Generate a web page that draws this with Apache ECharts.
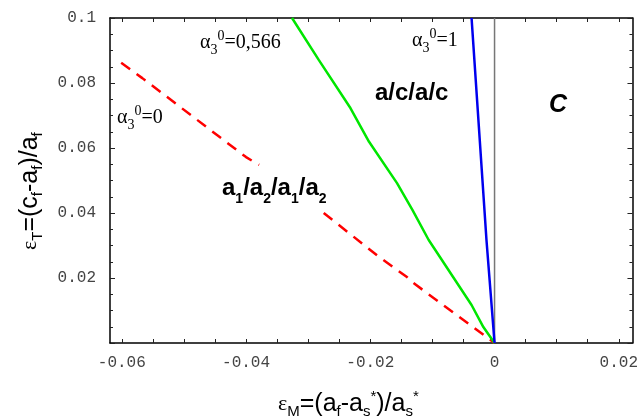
<!DOCTYPE html>
<html>
<head>
<meta charset="utf-8">
<title>ECharts</title>
<script src="https://cdn.jsdelivr.net/npm/echarts@6/dist/echarts.min.js"></script>
</head>
<body style="margin:0">
<div id="main" style="width:641px;height:420px"></div>
<script type="text/javascript">
// axis ranges and ticks
var xMin = -0.0619, xMax = 0.0222;
var xTicks = [-0.06, -0.04, -0.02, 0, 0.02];
var xTickLabels = ['-0.06', '-0.04', '-0.02', '0', '0.02'];
var xAllTicks = [-0.06, -0.055, -0.05, -0.045, -0.04, -0.035, -0.03, -0.025, -0.02,
                 -0.015, -0.01, -0.005, 0, 0.005, 0.01, 0.015, 0.02];
var yTickLabels = ['', '0.02', '0.04', '0.06', '0.08', '0.1'];

// curves  [eps_M, eps_T]
var alpha0A = [[-0.0601, 0.0862], [-0.0567, 0.0815], [-0.0400, 0.0572], [-0.0379, 0.0548]];
var alpha0B = [[-0.0275, 0.0400], [-0.0186, 0.0265], [-0.0141, 0.0203], [-0.0133, 0.0188], [0, 0]];
var alpha566 = [[-0.0326, 0.1], [-0.0283, 0.0871], [-0.0232, 0.0723], [-0.0202, 0.0619],
                [-0.0157, 0.0492], [-0.0132, 0.0409], [-0.0106, 0.0317], [-0.0037, 0.0117],
                [-0.0018, 0.0049], [0, 0]];
var alpha1 = [[-0.0037, 0.1], [-0.0013, 0.0317], [0, 0]];
var zeroLine = [[0, 0], [0, 0.1]];

var myChart = echarts.init(document.getElementById('main'));

var monoFont = 'Liberation Mono';
function xAxisOpt(pos, showLabel) {
    return {
        type: 'value', position: pos, min: xMin, max: xMax,
        axisLine: { show: true, onZero: false, lineStyle: { color: '#000', width: 1.5 } },
        axisTick: { show: true, inside: true, length: 4, customValues: xAllTicks, lineStyle: { color: '#222' } },
        axisLabel: {
            show: showLabel, customValues: xTicks, margin: 12,
            fontFamily: monoFont, fontSize: 16, color: '#444',
            formatter: function (v) {
                for (var i = 0; i < xTicks.length; i++) {
                    if (Math.abs(xTicks[i] - v) < 1e-9) return xTickLabels[i];
                }
                return '';
            }
        },
        splitLine: { show: false }
    };
}
function yAxisOpt(pos, showLabel) {
    return {
        type: 'value', position: pos, min: 0, max: 0.1, interval: 0.02,
        axisLine: { show: true, onZero: false, lineStyle: { color: '#000', width: 1.5 } },
        axisTick: { show: true, inside: true, length: 5, lineStyle: { color: '#222' } },
        minorTick: { show: true, splitNumber: 4, length: 3, lineStyle: { color: '#222' } },
        axisLabel: {
            show: showLabel, margin: 14,
            fontFamily: monoFont, fontSize: 16, color: '#444',
            formatter: function (v) { return yTickLabels[Math.round(v / 0.02)]; }
        },
        splitLine: { show: false }
    };
}

function line(data, color, width, type) {
    return {
        type: 'line', data: data, symbol: 'none', silent: true,
        lineStyle: { color: color, width: width, type: type || 'solid' }
    };
}

var alphaRich = {
    g: { fontFamily: 'Liberation Serif', fontSize: 20, lineHeight: 28, fill: '#000' },
    sub: { fontFamily: 'Liberation Serif', fontSize: 14, lineHeight: 12, verticalAlign: 'bottom', fill: '#000' },
    sup: { fontFamily: 'Liberation Serif', fontSize: 14, lineHeight: 23, verticalAlign: 'top', fill: '#000' }
};
var phaseRich = {
    b: { fontFamily: 'Liberation Sans', fontWeight: 'bold', fontSize: 24, lineHeight: 36, fill: '#000' },
    sub: { fontFamily: 'Liberation Sans', fontWeight: 'bold', fontSize: 14, lineHeight: 13, verticalAlign: 'bottom', fill: '#000' }
};
var titleRich = {
    e: { fontFamily: 'Liberation Serif', fontSize: 22, lineHeight: 30, fill: '#000' },
    m: { fontFamily: 'Liberation Sans', fontSize: 25, lineHeight: 30, fill: '#000' },
    sub: { fontFamily: 'Liberation Sans', fontSize: 15, lineHeight: 12, verticalAlign: 'bottom', fill: '#000' },
    sup: { fontFamily: 'Liberation Sans', fontSize: 15, lineHeight: 22, verticalAlign: 'top', fill: '#000' }
};

function txt(x, y, text, rich, extra) {
    var o = {
        type: 'text', x: x, y: y, silent: true,
        style: { text: text, rich: rich, fill: '#000', align: 'left', verticalAlign: 'middle' }
    };
    if (extra) for (var k in extra) o[k] = extra[k];
    return o;
}

var option = {
    animation: false,
    backgroundColor: '#fff',
    grid: { left: 110, right: 7, top: 18, bottom: 77, containLabel: false },
    xAxis: [xAxisOpt('bottom', true), xAxisOpt('top', false)],
    yAxis: [yAxisOpt('left', true), yAxisOpt('right', false)],
    series: [
        line(zeroLine, '#777', 1.5),
        line(alpha0A, '#ff0000', 2.5, [11, 8]),
        line(alpha0B, '#ff0000', 2.5, [11, 8]),
        line(alpha566, '#00e600', 2.5),
        line(alpha1, '#0000ee', 2.5)
    ],
    graphic: [
        txt(200, 43, '{g|α}{sub|3}{sup|0}{g|=0,566}', alphaRich),
        txt(412, 41, '{g|α}{sub|3}{sup|0}{g|=1}', alphaRich),
        txt(117, 118, '{g|α}{sub|3}{sup|0}{g|=0}', alphaRich),
        txt(375, 93, '{b|a/c/a/c}', phaseRich),
        txt(549, 105, '{b|C}', { b: { fontFamily: 'Liberation Sans', fontWeight: 'bold', fontStyle: 'italic', fontSize: 25, fill: '#000' } }),
        txt(222, 188, '{b|a}{sub|1}{b|/a}{sub|2}{b|/a}{sub|1}{b|/a}{sub|2}', phaseRich),
        txt(278, 404, '{e|ε}{sub|M}{m|=(a}{sub|f}{m|-a}{sub|s}{sup|*}{m|)/a}{sub|s}{sup|*}', titleRich),
        txt(30, 250, '{e|ε}{sub|T}{m|=(c}{sub|f}{m|-a}{sub|f}{m|)/a}{sub|f}', titleRich, { rotation: Math.PI / 2 })
    ]
};
myChart.setOption(option);
</script>
</body>
</html>
